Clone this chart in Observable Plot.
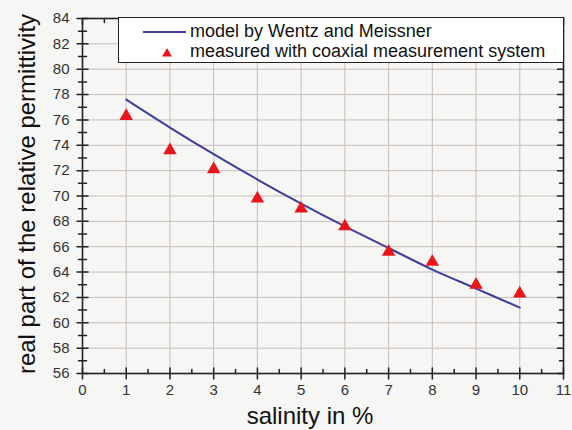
<!DOCTYPE html>
<html><head><meta charset="utf-8">
<script src="https://cdn.jsdelivr.net/npm/d3@7"></script>
<script src="https://cdn.jsdelivr.net/npm/@observablehq/plot@0.6"></script>
<style>
body{margin:0;background:#f6f6f4;}
#wrap{position:relative;width:572px;height:430px;font-family:"Liberation Sans",Arial,sans-serif;}
#legend{position:absolute;left:118px;top:17px;width:446px;height:46px;background:#fff;border:1.5px solid #222;box-sizing:border-box;font-size:18px;color:#111;}
#legend .lab{position:absolute;left:71px;white-space:nowrap;line-height:20px;}
</style></head><body><div id="wrap"></div>
<script>
const salinity = [1, 2, 3, 4, 5, 6, 7, 8, 9, 10];
const model = [77.6, 75.4, 73.3, 71.3, 69.4, 67.6, 65.9, 64.2, 62.7, 61.2];
const measured = [76.3, 73.6, 72.1, 69.8, 69.0, 67.6, 65.6, 64.8, 63.0, 62.3];
const xTicks = [0, 1, 2, 3, 4, 5, 6, 7, 8, 9, 10, 11];
const xMinor = [0.5, 1.5, 2.5, 3.5, 4.5, 5.5, 6.5, 7.5, 8.5, 9.5, 10.5];
const yTicks = [56, 58, 60, 62, 64, 66, 68, 70, 72, 74, 76, 78, 80, 82, 84];
const yMinor = [57, 59, 61, 63, 65, 67, 69, 71, 73, 75, 77, 79, 81, 83];
const xLabel = "salinity in %";
const yLabel = "real part of the relative permittivity";
const legendLabels = ["model by Wentz and Meissner", "measured with coaxial measurement system"];

const lineColor = "#3d3f9e";
const dotColor = "#e8161b";
const ink = "#222";
const tickShape = {draw(context, l) { context.moveTo(0, 0); context.lineTo(0, -l); }};

const modelData = salinity.map((s, i) => ({s, v: model[i]}));
const measData = salinity.map((s, i) => ({s, v: measured[i]}));

const chart = Plot.plot({
  width: 572,
  height: 430,
  marginLeft: 82,
  marginRight: 9,
  marginTop: 18,
  marginBottom: 57,
  style: {fontFamily: "Liberation Sans, Arial, sans-serif", background: "transparent"},
  x: {domain: [0, 11]},
  y: {domain: [56, 84]},
  marks: [
    Plot.gridX(xTicks.slice(1, -1), {stroke: "#c8bcbc", strokeOpacity: 1, strokeWidth: 1}),
    Plot.gridY(yTicks.slice(1, -1), {stroke: "#c8bcbc", strokeOpacity: 1, strokeWidth: 1}),
    Plot.axisX(xTicks, {tickSize: 0, tickPadding: 11, fontSize: 15, fill: "#333", label: null}),
    Plot.axisY(yTicks, {tickSize: 0, tickPadding: 13, fontSize: 15, fill: "#333", label: null}),
    // left ticks (crossing)
    Plot.vector(yTicks, {y: d => d, frameAnchor: "left", rotate: 90, anchor: "middle", length: 11, shape: tickShape, stroke: ink, strokeWidth: 1.5}),
    Plot.vector(yMinor, {y: d => d, frameAnchor: "left", rotate: 90, anchor: "middle", length: 8, shape: tickShape, stroke: ink, strokeWidth: 1.5}),
    // right ticks (inward)
    Plot.vector(yTicks, {y: d => d, frameAnchor: "right", rotate: -90, anchor: "start", length: 6, shape: tickShape, stroke: ink, strokeWidth: 1.5}),
    Plot.vector(yMinor, {y: d => d, frameAnchor: "right", rotate: -90, anchor: "start", length: 4, shape: tickShape, stroke: ink, strokeWidth: 1.5}),
    // bottom ticks
    Plot.vector(xTicks, {x: d => d, frameAnchor: "bottom", rotate: 0, anchor: "middle", length: 11, shape: tickShape, stroke: ink, strokeWidth: 1.5}),
    Plot.vector(xMinor, {x: d => d, frameAnchor: "bottom", rotate: 0, anchor: "start", length: 4, shape: tickShape, stroke: ink, strokeWidth: 1.5}),
    // top ticks (inward)
    Plot.vector(xTicks, {x: d => d, frameAnchor: "top", rotate: 180, anchor: "start", length: 6, shape: tickShape, stroke: ink, strokeWidth: 1.5}),
    Plot.vector(xMinor, {x: d => d, frameAnchor: "top", rotate: 180, anchor: "start", length: 4, shape: tickShape, stroke: ink, strokeWidth: 1.5}),
    Plot.frame({stroke: ink, strokeWidth: 1.6}),
    Plot.line(modelData, {x: "s", y: "v", stroke: lineColor, strokeWidth: 2, curve: "monotone-x"}),
    Plot.dot(measData, {x: "s", y: "v", symbol: "triangle", r: 5, fill: dotColor, stroke: "none"}),
    Plot.text([xLabel], {frameAnchor: "bottom", dx: -13, dy: 50, fontSize: 24, fill: "#111", textAnchor: "middle", lineAnchor: "bottom"}),
    Plot.text([yLabel], {frameAnchor: "left", dx: -48, dy: -2, rotate: -90, fontSize: 24, fill: "#111", textAnchor: "middle", lineAnchor: "bottom"})
  ]
});

const wrap = document.getElementById("wrap");
wrap.appendChild(chart);

// legend (drawn from the same series colours)
const legend = document.createElement("div");
legend.id = "legend";
legend.innerHTML = `
  <svg width="70" height="44" style="position:absolute;left:0;top:0">
    <line x1="24" x2="67" y1="14" y2="14" stroke="${lineColor}" stroke-width="2"></line>
    <path d="M48,30 L53,38.5 L43,38.5 Z" fill="${dotColor}"></path>
  </svg>
  <div class="lab" style="top:3px">${legendLabels[0]}</div>
  <div class="lab" style="top:23px">${legendLabels[1]}</div>`;
wrap.appendChild(legend);
</script>
</body></html>
